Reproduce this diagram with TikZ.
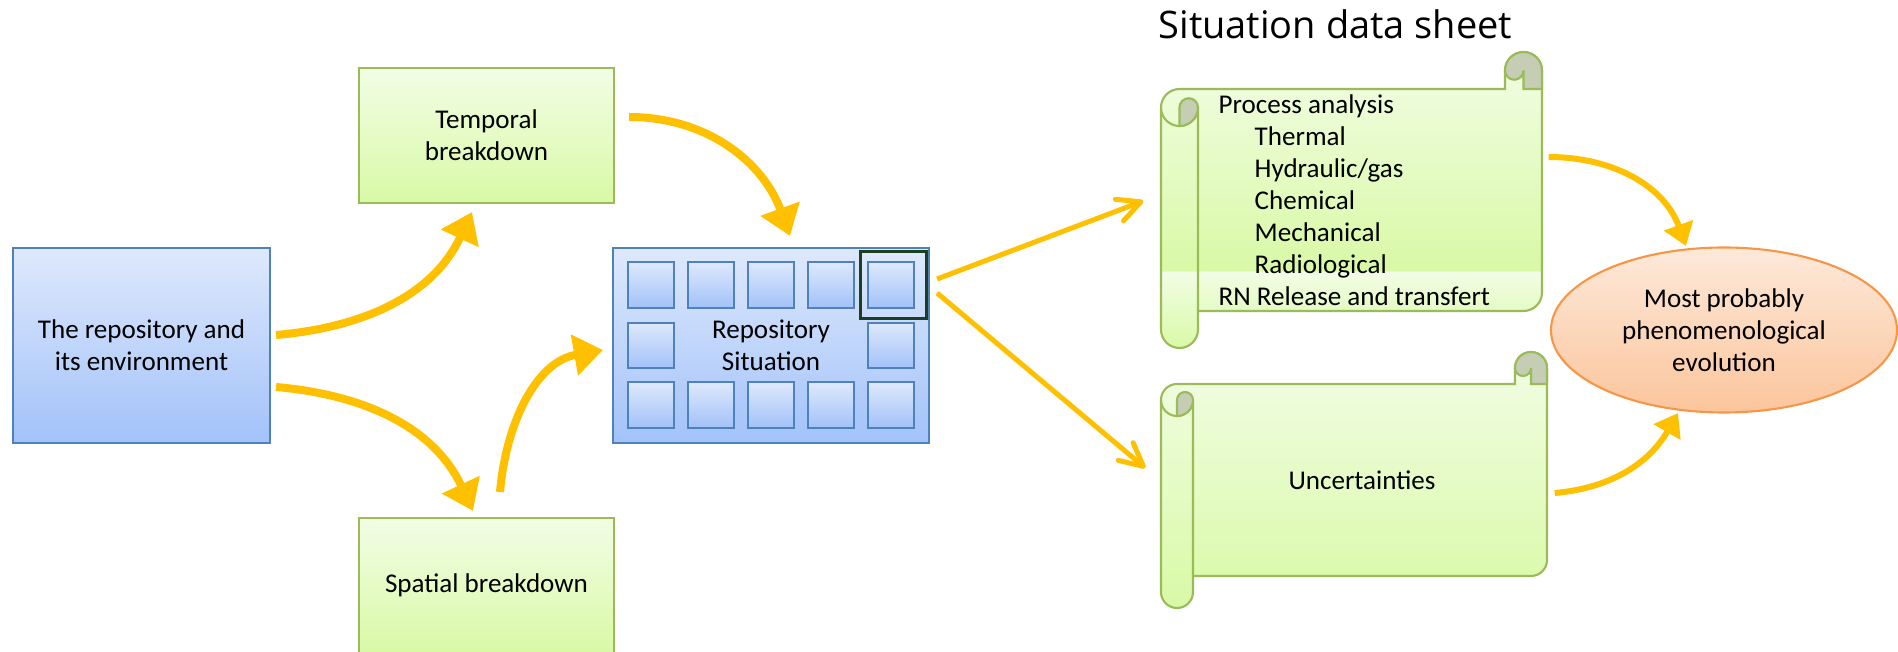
\documentclass[tikz,border=0pt]{standalone}
\usepackage{fontspec}
\setmainfont{Carlito}
\newfontfamily\titlefont{Open Sans}
\usetikzlibrary{arrows.meta,shapes.geometric,calc}

\definecolor{lineblue}{HTML}{4F81BD}
\definecolor{blueTop}{HTML}{DEE9FC}
\definecolor{blueBot}{HTML}{A2C2F9}
\definecolor{linegreen}{HTML}{9BBB59}
\definecolor{greenTop}{HTML}{F2FDE5}
\definecolor{greenBot}{HTML}{D9F9A6}
\definecolor{curlgrey}{HTML}{C5CEB4}
\definecolor{flowgold}{HTML}{FFC000}
\definecolor{lineorange}{HTML}{F79646}
\definecolor{orangeTop}{HTML}{FDE9DA}
\definecolor{orangeBot}{HTML}{FBC59C}
\definecolor{pickgreen}{HTML}{1E3E23}

\newcommand{\boxfont}{\fontsize{7.7}{9.1}\selectfont}

\pgfdeclareverticalshading{sheetband}{100bp}{color(0bp)=(greenBot); color(25bp)=(greenBot); color(37.9bp)=(greenTop); color(38.1bp)=(greenBot); color(75bp)=(greenTop); color(100bp)=(greenTop)}
\pgfdeclareverticalshading{sheetplain}{100bp}{color(0bp)=(greenBot); color(25bp)=(greenBot); color(75bp)=(greenTop); color(100bp)=(greenTop)}

\begin{document}
\begin{tikzpicture}[
    stage/.style={draw=linegreen, line width=0.6pt, top color=greenTop, bottom color=greenBot, minimum width=2.55cm, minimum height=1.35cm, align=center, font=\boxfont},
    block/.style={draw=lineblue, line width=0.6pt, top color=blueTop, bottom color=blueBot, minimum height=1.95cm, align=center, font=\boxfont},
    cell/.style={draw=lineblue, line width=0.6pt, top color=blueTop, bottom color=blueBot, minimum width=0.46cm, minimum height=0.455cm, inner sep=0pt},
    roll/.style={draw=linegreen, line width=0.6pt},
    bigflow/.style={draw=flowgold, line width=0.08cm, -{Triangle[width=0.4cm,length=0.29cm]}},
    smallflow/.style={draw=flowgold, line width=0.06cm, -{Triangle[width=0.3cm,length=0.22cm]}},
    thinflow/.style={draw=flowgold, line width=0.05cm, -{Straight Barb[length=0.23cm,width=0.23cm,round]}}
]
\useasboundingbox (0,0) rectangle (18.98,6.52);

% Inputs
\node[block, minimum width=2.57cm] (env) at (1.415,3.065) {The repository and\\its environment};
\node[stage] (temporal) at (4.865,5.165) {Temporal\\breakdown};
\node[stage] (spatial) at (4.865,0.665) {Spatial breakdown};

% Repository situation grid
\node[block, minimum width=3.16cm] (repo) at (7.71,3.065) {Repository\\Situation};
\foreach \i in {1,...,5}{
    \node[cell] (up\i) at ($(repo)+(0.6*\i-1.8,0.605)$) {};
    \node[cell] (low\i) at ($(repo)+(0.6*\i-1.8,-0.595)$) {};
}
\node[cell] (midL) at ($(repo)+(-1.2,0)$) {};
\node[cell] (midR) at ($(repo)+(1.2,0)$) {};
\node[draw=pickgreen, line width=0.95pt, minimum width=0.66cm, minimum height=0.67cm] (pick) at ([xshift=0.027cm]up5) {};

% Scrolls: left, top, right, bottom, roll size, shading
\foreach \xl/\yt/\xr/\yb/\rc/\shd in {11.61/6.00/15.42/3.04/0.37/sheetband, 11.61/3.00/15.47/0.44/0.32/sheetplain}{
    \pgfmathsetmacro{\hc}{\rc/2}
    \pgfmathsetmacro{\qc}{\rc/4}
    \shade[shading=\shd, roll] (\xl,\yt-\rc-\hc) arc[start angle=180, end angle=90, radius=\hc]
        -- (\xr-\rc,\yt-\rc) -- (\xr-\rc,\yt-\hc) arc[start angle=180, end angle=0, radius=\hc]
        -- (\xr,\yb+\rc+\hc) arc[start angle=0, end angle=-90, radius=\hc]
        -- (\xl+\rc,\yb+\rc) -- (\xl+\rc,\yb+\hc) arc[start angle=0, end angle=-180, radius=\hc] -- cycle;
    \draw[roll] (\xl+\rc,\yb+\rc) -- (\xl+\rc,\yt-\rc-\hc) arc[start angle=0, end angle=-180, radius=\hc];
    \draw[roll, fill=curlgrey] (\xl+\hc,\yt-\rc-\hc) arc[start angle=180, end angle=0, radius=\qc]
        arc[start angle=0, end angle=-90, radius=\hc] -- cycle;
    \draw[roll, fill=curlgrey] (\xr-\rc,\yt-\hc) arc[start angle=180, end angle=0, radius=\hc]
        -- (\xr,\yt-\rc) -- (\xr-\hc,\yt-\rc) -- (\xr-\hc,\yt-\hc) arc[start angle=0, end angle=-180, radius=\qc] -- cycle;
}

% Scroll contents
\node[font=\titlefont\fontsize{10.8}{13}\selectfont, anchor=base west, inner sep=0pt] (title) at (11.58,6.13) {Situation data sheet};
\node[minimum width=3.81cm, minimum height=2.22cm, inner sep=0pt] (sheet) at (13.515,4.52) {};
\node[anchor=north west, align=left, inner sep=0pt, font=\boxfont] (sheetlist) at (12.18,5.58) {Process analysis\\
    \hspace*{0.36cm}Thermal\\
    \hspace*{0.36cm}Hydraulic/gas\\
    \hspace*{0.36cm}Chemical\\
    \hspace*{0.36cm}Mechanical\\
    \hspace*{0.36cm}Radiological\\
    RN Release and transfert};
\node[minimum width=3.86cm, minimum height=1.92cm, inner sep=0pt, font=\boxfont] (uncert) at (13.62,1.72) {Uncertainties};

% Result
\node[ellipse, draw=lineorange, line width=0.6pt, top color=orangeTop, bottom color=orangeBot, minimum width=3.46cm, minimum height=1.65cm, align=center, font=\boxfont, inner sep=0pt] (evol) at (17.24,3.22) {Most probably\\phenomenological\\evolution};

% Breakdown arrows
\draw[bigflow] ([xshift=0.05cm,yshift=0.105cm]env.east) to[out=5,in=-115] ([xshift=-0.145cm,yshift=-0.08cm]temporal.south);
\draw[bigflow] ([xshift=0.05cm,yshift=-0.415cm]env.east) to[out=-5,in=115] ([xshift=-0.135cm,yshift=0.06cm]spatial.north);
\draw[bigflow] ([xshift=0.135cm,yshift=0.25cm]spatial.north) to[out=85,in=-170] ([xshift=-0.09cm,yshift=-0.045cm]repo.west);
\draw[bigflow] ([xshift=0.14cm,yshift=0.185cm]temporal.east) to[out=0,in=110] ([xshift=0.19cm,yshift=0.11cm]repo.north);

% Towards the data sheet
\draw[thinflow] ([xshift=0.07cm,yshift=0.665cm]repo.east) -- ([xshift=-0.17cm,yshift=-0.01cm]sheet.west);
\draw[thinflow] ([xshift=0.07cm,yshift=0.525cm]repo.east) -- ([xshift=-0.23cm,yshift=0.12cm]uncert.west);

% Towards the evolution
\draw[smallflow] ([xshift=0.06cm,yshift=0.43cm]sheet.east) to[out=0,in=110] ([xshift=-0.38cm,yshift=0.005cm]evol.north);
\draw[smallflow] ([xshift=-0.01cm,yshift=-0.13cm]uncert.east) to[out=5,in=-120] ([xshift=-0.46cm,yshift=0.005cm]evol.south);
\end{tikzpicture}
\end{document}
